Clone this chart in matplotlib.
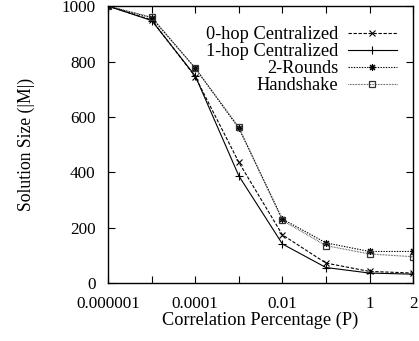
import matplotlib
matplotlib.use("Agg")
import matplotlib.pyplot as plt

# Correlation percentage levels (evenly spaced categories on the x axis)
p_levels = ["0.000001", "0.00001", "0.0001", "0.001", "0.01", "0.1", "1", "2"]
tick_labels = ["0.000001", "", "0.0001", "", "0.01", "", "1", "2"]

zero_hop = [1000, 950, 745, 436, 174, 72, 42, 36]
one_hop = [1000, 948, 748, 387, 141, 56, 36, 32]
two_rounds = [1000, 958, 776, 559, 231, 145, 114, 114]
handshake = [1000, 960, 776, 563, 226, 135, 105, 95]

plt.rcParams["font.family"] = ["Liberation Serif", "DejaVu Serif"]
plt.rcParams["font.size"] = 12.3

fig = plt.figure(figsize=(4.19, 3.41), dpi=100)
ax = fig.add_axes([0.258, 0.170, 0.728, 0.812])

x = list(range(len(p_levels)))
lw = 0.8
ax.plot(x, zero_hop, color="black", lw=lw, ls=(0, (3, 1.5)), marker="x",
        ms=5, mew=0.8, label="0-hop Centralized")
ax.plot(x, one_hop, color="black", lw=lw, ls="-", marker="+",
        ms=6, mew=0.8, label="1-hop Centralized")
ax.plot(x, two_rounds, color="black", lw=lw, ls=(0, (1.2, 1.2)),
        marker=(8, 2, 0), ms=5, mew=0.8, label="2-Rounds")
ax.plot(x, handshake, color="#333333", lw=lw, ls=(0, (0.6, 0.8)), marker="s",
        ms=5, mew=0.9, mfc="none", label="Handshake")

ax.set_xlim(0, len(p_levels) - 1)
ax.set_ylim(0, 1000)
ax.set_xticks(x)
ax.set_xticklabels(tick_labels)
ax.set_yticks([0, 200, 400, 600, 800, 1000])
ax.tick_params(direction="in", top=True, right=True, length=5, width=0.8)
ax.tick_params(axis="x", pad=9)
ax.tick_params(axis="y", pad=9)
for s in ax.spines.values():
    s.set_linewidth(1.0)

ax.set_xlabel("Correlation Percentage (P)", fontsize=13.2, labelpad=0)
ax.set_ylabel("Solution Size (|M|)", fontsize=12.7, labelpad=19)

ax.legend(loc="upper right", markerfirst=False, frameon=False,
          prop={"size": 13.2}, handlelength=2.7, handletextpad=0.5,
          labelspacing=0.0, borderpad=0, borderaxespad=0,
          bbox_to_anchor=(0.9475, 0.928))

fig.savefig("out.png", dpi=100)
